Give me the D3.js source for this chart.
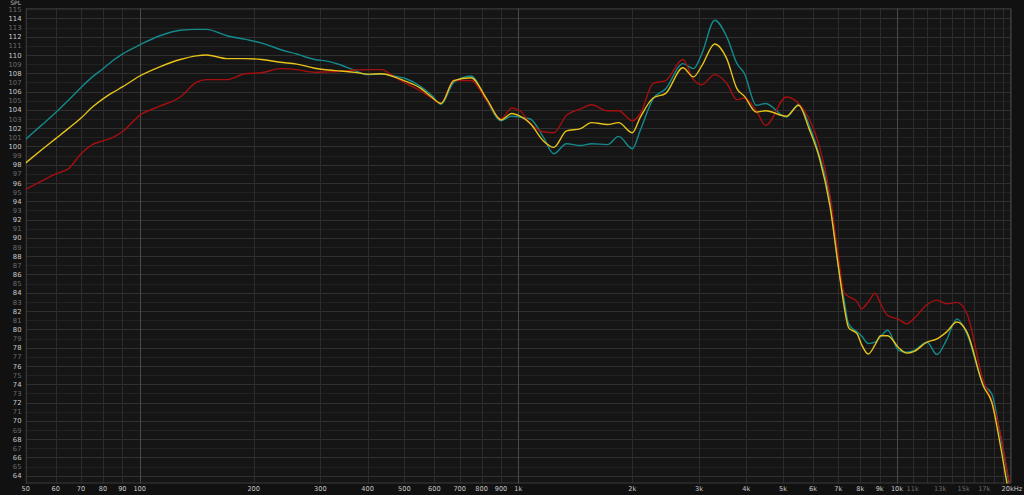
<!DOCTYPE html>
<html>
<head>
<meta charset="utf-8">
<script src="https://cdn.jsdelivr.net/npm/d3@7"></script>
<style>
  html, body { margin: 0; padding: 0; background: #111111; }
  svg { display: block; }
  text { font-family: "DejaVu Sans", sans-serif; }
</style>
</head>
<body>
<svg id="chart" width="1024" height="495"></svg>
<script>
// ---------- data ----------
const freqs = [50, 55, 60, 65, 70, 75, 80, 85, 90, 100, 113, 128, 141, 150, 170, 190, 210, 235, 260, 290, 315, 340, 370, 400, 435, 470, 505, 550, 590, 625, 675, 750, 825, 900, 960, 1010, 1075, 1165, 1240, 1340, 1460, 1560, 1720, 1840, 2000, 2100, 2270, 2450, 2720, 2900, 3050, 3300, 3550, 3780, 3950, 4250, 4500, 5100, 5500, 5850, 6250, 6650, 7000, 7250, 7450, 7850, 8050, 8400, 8750, 9050, 9450, 10100, 10600, 11100, 12000, 12750, 13500, 14400, 15300, 16900, 17800, 18700, 19700, 20000];

const tealValues = [100.8, 102.3, 103.7, 105.1, 106.45, 107.6, 108.5, 109.4, 110.1, 111.1, 112.1, 112.7, 112.8, 112.8, 112.1, 111.7, 111.3, 110.6, 110.1, 109.5, 109.3, 108.9, 108.3, 107.85, 107.9, 107.7, 107.4, 106.6, 105.6, 104.6, 107.0, 107.7, 105.0, 102.8, 103.3, 103.2, 103.0, 101.0, 99.2, 100.3, 100.1, 100.3, 100.2, 101.1, 99.75, 101.8, 105.2, 106.3, 109.05, 108.5, 110.1, 113.8, 112.0, 109.05, 108.0, 104.5, 104.7, 103.2, 104.6, 102.4, 98.9, 94.1, 86.8, 83.2, 80.6, 79.7, 79.3, 78.45, 78.6, 79.2, 79.9, 77.7, 77.5, 77.7, 78.6, 77.25, 78.8, 81.15, 79.5, 74.0, 72.95, 68.6, 63.45, 61.8];

const yellowValues = [98.2, 99.6, 100.85, 102.0, 103.1, 104.3, 105.2, 105.9, 106.5, 107.7, 108.7, 109.5, 109.9, 110.0, 109.6, 109.6, 109.5, 109.2, 109.0, 108.55, 108.35, 108.25, 108.1, 107.9, 107.95, 107.6, 107.1, 106.4, 105.4, 104.7, 107.2, 107.5, 105.2, 102.9, 103.6, 103.3, 102.5, 100.6, 99.9, 101.7, 101.95, 102.6, 102.4, 102.6, 101.5, 103.2, 105.3, 105.8, 108.6, 107.6, 108.8, 111.2, 109.6, 106.3, 105.5, 103.75, 103.9, 103.3, 104.5, 102.0, 98.6, 93.5, 86.9, 82.5, 80.2, 79.5, 78.4, 77.3, 78.3, 79.3, 79.3, 78.0, 77.4, 77.6, 78.6, 78.95, 79.7, 80.8, 79.7, 73.8, 72.0, 67.6, 62.3, 61.0];

const redValues = [95.3, 96.2, 97.0, 97.6, 99.2, 100.2, 100.6, 101.0, 101.6, 103.4, 104.4, 105.4, 107.0, 107.3, 107.3, 107.95, 108.05, 108.5, 108.4, 108.1, 108.15, 108.2, 108.35, 108.4, 108.4, 107.6, 106.9, 106.1, 105.3, 104.7, 107.2, 107.2, 105.0, 103.0, 104.2, 103.9, 102.5, 101.6, 101.5, 103.4, 104.1, 104.55, 103.9, 103.9, 102.8, 103.6, 106.9, 107.2, 109.5, 107.3, 106.75, 107.85, 106.9, 105.1, 105.3, 103.9, 102.3, 105.4, 104.7, 103.1, 99.9, 94.8, 88.0, 84.0, 83.6, 83.0, 82.25, 83.0, 83.95, 82.8, 81.5, 81.1, 80.6, 81.2, 82.7, 83.2, 82.8, 82.95, 81.7, 74.4, 72.2, 68.9, 63.8, 62.5];

const seriesNames = ["teal", "red", "yellow"];
const seriesColors = ["#13898b", "#a50f0f", "#e6c21a"];

const xTickValues = [50, 60, 70, 80, 90, 100, 200, 300, 400, 500, 600, 700, 800, 900, 1000, 2000, 3000, 4000, 5000, 6000, 7000, 8000, 9000, 10000, 11000, 13000, 15000, 17000, 20000];
const xTickLabels = ["50", "60", "70", "80", "90", "100", "200", "300", "400", "500", "600", "700", "800", "900", "1k", "2k", "3k", "4k", "5k", "6k", "7k", "8k", "9k", "10k", "11k", "13k", "15k", "17k", "20kHz"];
const xGridValues = [50, 60, 70, 80, 90, 100, 200, 300, 400, 500, 600, 700, 800, 900, 1000, 2000, 3000, 4000, 5000, 6000, 7000, 8000, 9000, 10000, 11000, 12000, 13000, 14000, 15000, 16000, 17000, 18000, 19000, 20000];
const yTickValues = d3.range(64, 116);

// ---------- layout ----------
const W = 1024, H = 495;
const mLeft = 25.7, mRight = 1011, mTop = 8.3, mBottom = 483.5;

const svg = d3.select("#chart");
const x = d3.scaleLog().domain([50, 20000]).range([mLeft, mRight]);
const y = d3.scaleLinear().domain([63.15, 115.1]).range([mBottom, mTop]);

svg.append("rect").attr("width", W).attr("height", H).attr("fill", "#111111");
svg.append("rect").attr("x", mLeft).attr("y", mTop).attr("width", mRight - mLeft).attr("height", mBottom - mTop).attr("fill", "#151515");

// horizontal grid
svg.append("g").selectAll("line").data(yTickValues).join("line")
  .attr("x1", mLeft).attr("x2", mRight)
  .attr("y1", d => Math.round(y(d)) + 0.5).attr("y2", d => Math.round(y(d)) + 0.5)
  .attr("stroke", d => d % 2 === 0 ? "#303030" : "#222222")
  .attr("stroke-width", 1);

// vertical grid
const major = new Set([100, 1000, 10000]);
svg.append("g").selectAll("line").data(xGridValues).join("line")
  .attr("x1", d => Math.round(x(d)) + 0.5).attr("x2", d => Math.round(x(d)) + 0.5)
  .attr("y1", mTop).attr("y2", mBottom)
  .attr("stroke", d => major.has(d) ? "#4a4a4a" : "#2b2b2b")
  .attr("stroke-width", 1);

// frame
svg.append("rect").attr("x", mLeft + 0.5).attr("y", mTop + 0.5)
  .attr("width", mRight - mLeft - 1).attr("height", mBottom - mTop - 1)
  .attr("fill", "none").attr("stroke", "#3a3a3a");

// y labels
svg.append("g").selectAll("text").data(yTickValues).join("text")
  .attr("x", 21.5).attr("y", d => y(d) + 2.6)
  .attr("text-anchor", "end")
  .attr("font-size", 6.8)
  .attr("fill", d => d % 2 === 0 ? "#c8c8c8" : "#6a6a6a")
  .text(d => d);

svg.append("text").attr("x", 21).attr("y", 4.6).attr("text-anchor", "end")
  .attr("font-size", 6).attr("fill", "#bdbdbd").text("SPL");

// x labels
const dimX = new Set([11000, 13000, 15000, 17000]);
svg.append("g").selectAll("text").data(xTickValues).join("text")
  .attr("x", d => d === 20000 ? 1001.5 : x(d))
  .attr("y", 491)
  .attr("text-anchor", d => d === 20000 ? "start" : "middle")
  .attr("font-size", 6.6)
  .attr("fill", d => dimX.has(d) ? "#6a6a6a" : "#c8c8c8")
  .text((d, i) => xTickLabels[i]);

// curves
svg.append("clipPath").attr("id", "plotclip").append("rect")
  .attr("x", mLeft).attr("y", mTop).attr("width", mRight - mLeft).attr("height", mBottom - mTop);

const valueSets = { teal: tealValues, red: redValues, yellow: yellowValues };
const line = d3.line()
  .x(d => x(d[0]))
  .y(d => y(d[1]))
  .curve(d3.curveMonotoneX);

const g = svg.append("g").attr("clip-path", "url(#plotclip)");
seriesNames.forEach((name, i) => {
  const pts = freqs.map((f, j) => [f, valueSets[name][j]]);
  g.append("path").datum(pts)
    .attr("d", line)
    .attr("fill", "none")
    .attr("stroke", seriesColors[i])
    .attr("stroke-width", 1.4)
    .attr("stroke-linejoin", "round");
});
</script>
</body>
</html>
